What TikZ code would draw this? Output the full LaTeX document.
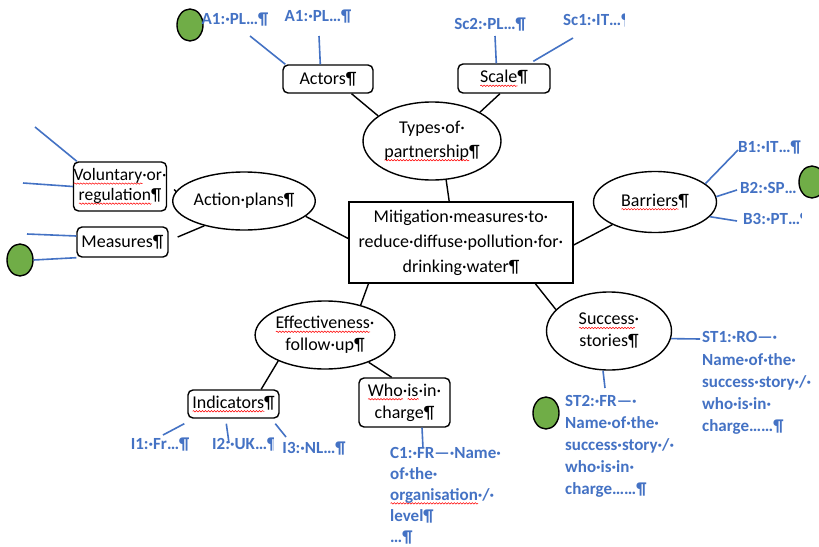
\documentclass[tikz,border=0pt]{standalone}
\usepackage{fontspec}
\setmainfont{Carlito}
\usetikzlibrary{shapes.geometric,calc,decorations.pathmorphing}
\definecolor{wblue}{HTML}{4472C4}
\definecolor{wgreen}{HTML}{70AD47}
\newsavebox\sqbx
\newlength\sqlen
\newcommand\sqw[1]{\sbox\sqbx{#1}\setlength\sqlen{\wd\sqbx}\rlap{\tikz[baseline=0pt]\draw[red,line width=0.5pt,sharp corners,decorate,decoration={snake,amplitude=0.7pt,segment length=3pt}] (0pt,-3pt) -- (\sqlen,-3pt);}\usebox\sqbx}
\tikzset{
 blk/.style={font=\fontsize{18}{24}\selectfont, text=black, line width=1.4pt, draw=black, inner sep=0pt, align=center},
 rbox/.style={blk, rectangle, rounded corners=5pt},
 sqbox/.style={blk, rectangle},
 oval/.style={blk, ellipse},
 lab/.style={font=\fontsize{17}{21.5}\selectfont\bfseries, text=wblue, inner sep=0pt, align=left},
 bl/.style={draw=wblue, line width=1.6pt},
 kl/.style={draw=black, line width=1.4pt},
 dot/.style={ellipse, draw=black, fill=wgreen, line width=1.4pt, minimum width=26pt, minimum height=32pt, inner sep=0pt},
}
\begin{document}
\begin{tikzpicture}[x=1pt,y=-1pt]
\useasboundingbox[fill=white] (0,0) rectangle (819,546);

% main nodes
\node[sqbox, minimum width=224pt, minimum height=81pt, font=\fontsize{18}{25}\selectfont] (ctr) at (461,242.5) {Mitigation·measures·to·\\reduce·diffuse·pollution·for·\\drinking·water¶};
\node[oval, minimum width=138pt, minimum height=78pt] (types) at (432,141) {Types·of·\\\sqw{partnership}¶};
\node[rbox, minimum width=90pt, minimum height=28pt] (actors) at (328,79) {Actors¶};
\node[rbox, minimum width=92pt, minimum height=29pt] (scale) at (504,78.5) {\sqw{Scale}¶};
\node[oval, minimum width=125pt, minimum height=58pt] (ap) at (244,201) {Action·plans¶};
\node[rbox, minimum width=92pt, minimum height=49pt, font=\fontsize{17.5}{20}\selectfont] (vol) at (120,186.5) {\sqw{Voluntary}·or·\\\sqw{regulation}¶};
\node[rbox, minimum width=91pt, minimum height=30pt] (meas) at (122.5,242) {Measures¶};
\node[oval, minimum width=123pt, minimum height=61pt] (barriers) at (655,202) {\sqw{Barriers}¶};
\node[oval, minimum width=125pt, minimum height=68pt, font=\fontsize{18}{22}\selectfont] (eff) at (325,335) {\sqw{Effectiveness}·\\follow·up¶};
\node[rbox, minimum width=91pt, minimum height=28pt] (ind) at (233.5,404) {\sqw{Indicators}¶};
\node[rbox, minimum width=91pt, minimum height=49pt, font=\fontsize{18}{22}\selectfont] (who) at (404.5,402.5) {\sqw{Who}·\sqw{is}·in·\\charge¶};
\node[oval, minimum width=125pt, minimum height=78pt, font=\fontsize{18}{22}\selectfont] (succ) at (609,331) {\sqw{Success}·\\stories¶};

% black connectors
\draw[kl] (actors.-32) -- (types.155);
\draw[kl] (scale.-105) -- (types.31);
\draw[kl] (types.-70) -- (ctr.106);
\draw[kl] (ap.-14) -- (ctr.178);
\draw[kl] ([xshift=7pt,yshift=-3pt]vol.east) -- (ap.172);
\draw[kl] ([xshift=9pt,yshift=5pt]meas.east) -- (ap.212);
\draw[kl] ([yshift=-2.5pt]ctr.east) -- (barriers.208);
\draw[kl] (ctr.204) -- (eff.40);
\draw[kl] (ctr.-29) -- (succ.158);
\draw[kl] (ind.28) -- (eff.209);
\draw[kl] (eff.-32) -- (who.117);

% green dots (behind labels)
\node[dot] (gA) at (190,25) {};
\node[dot] (gM) at (20,260) {};
\node[dot] (gS) at (546,413) {};

% blue labels
\node[lab] (a1l) at (235,20) {A1:·PL…¶};
\node[lab] (a1r) at (318,17) {A1:·PL…¶};
\node[lab] (sc2) at (490,25) {Sc2:·PL…¶};
\begin{scope}
\clip (555,0) rectangle (624,45);
\node[lab, anchor=west] (sc1) at (563,21) {Sc1:·IT…¶};
\end{scope}
\node[lab, anchor=west] (b1) at (738,148) {B1:·IT…¶};
\node[lab, anchor=west] (b2) at (740,188) {B2:·SP…};
\begin{scope}
\clip (735,205) rectangle (801,235);
\node[lab, anchor=west] (b3) at (743,220) {B3:·PT…¶};
\end{scope}
\node[lab] (i1) at (160,445) {I1:·Fr…¶};
\begin{scope}
\clip (205,430) rectangle (273,460);
\node[lab, anchor=west] (i2) at (212,445) {I2:·UK…¶};
\end{scope}
\node[lab] (i3) at (314,449) {I3:·NL…¶};
\node[lab, anchor=north west, font=\fontsize{17}{21}\selectfont\bfseries] (c1) at (390,447) {C1:·FR—·Name·\\of·the·\\\sqw{organisation}·/·\\level¶\\…¶};
\node[lab, anchor=north west, font=\fontsize{17}{22.2}\selectfont\bfseries] (st1) at (702,331.5) {ST1:·RO—·\\Name·of·the·\\success·story·/·\\who·is·in·\\charge……¶};
\node[lab, anchor=north west, font=\fontsize{17}{22}\selectfont\bfseries] (st2) at (565,395.5) {ST2:·FR—·\\Name·of·the·\\success·story·/·\\who·is·in·\\charge……¶};

\node[dot] (gB) at (812,182) {};

% blue connector free ends
\coordinate (pA1l) at (250,36);
\coordinate (pA1r) at (319,36);
\coordinate (pSc2) at (495,36);
\coordinate (pSc1) at (573,38);
\coordinate (pV1) at (35,127);
\coordinate (pV2) at (23,183);
\coordinate (pM1) at (27,234);
\coordinate (pB1) at (738,150);
\coordinate (pB2) at (737,190);
\coordinate (pB3) at (737,221);
\coordinate (pI1) at (163,435);
\coordinate (pI2) at (229,443);
\coordinate (pI3) at (286,437);
\coordinate (pC1) at (423,448);
\coordinate (pST1) at (700,339);
\coordinate (pST2) at (605,388);

% blue connectors
\draw[bl] (pA1l) -- ([xshift=3pt]actors.north west);
\draw[bl] (pA1r) -- ([xshift=38pt]actors.north west);
\draw[bl] (pSc2) -- ([xshift=39pt]scale.north west);
\draw[bl] (pSc1) -- ([xshift=76pt,yshift=2pt]scale.north west);
\draw[bl] (pV1) -- ([xshift=4pt]vol.north west);
\draw[bl] (pV2) -- (vol.west);
\draw[bl] (pM1) -- ([yshift=6pt]meas.west);
\draw[bl] (gM.east) -- (meas.south west);
\draw[bl] (barriers.20) -- (pB1);
\draw[bl] (barriers.5) -- (pB2);
\draw[bl] (barriers.-15) -- (pB3);
\draw[bl] (pI1) -- ([xshift=-3pt,yshift=-5pt]ind.south west);
\draw[bl] (pI2) -- ([xshift=39pt,yshift=-5pt]ind.south west);
\draw[bl] (pI3) -- ([xshift=88pt,yshift=-5pt]ind.south west);
\draw[bl] (pC1) -- ([xshift=17.5pt]who.south);
\draw[bl] (succ.-7) -- (pST1);
\draw[bl] (pST2) -- ([xshift=-6pt]succ.south);
\end{tikzpicture}
\end{document}
